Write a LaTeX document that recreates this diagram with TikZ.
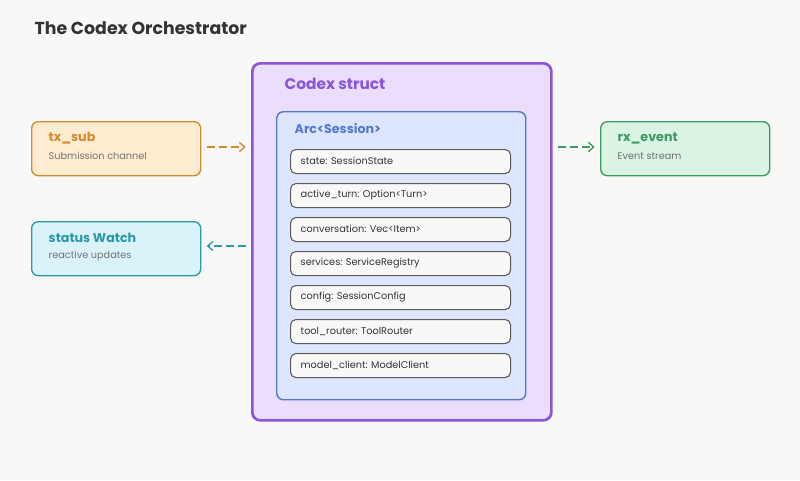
\documentclass[tikz,border=0pt]{standalone}
\usepackage{fontspec}
\setmainfont{Poppins}
\usetikzlibrary{arrows.meta}
\definecolor{bg}{HTML}{F8F8F6}
\definecolor{purp}{HTML}{8A55D6}
\definecolor{purpfill}{HTML}{EADDFE}
\definecolor{blu}{HTML}{5578CC}
\definecolor{blufill}{HTML}{DDE6FE}
\definecolor{org}{HTML}{D38A2E}
\definecolor{orgfill}{HTML}{FDECD0}
\definecolor{teal}{HTML}{2C98AA}
\definecolor{tealfill}{HTML}{D9F3F8}
\definecolor{grn}{HTML}{3C9A62}
\definecolor{grnfill}{HTML}{DAF3E2}
\begin{document}
\begin{tikzpicture}[x=0.75pt,y=-0.75pt,
  field/.style={draw=black!65,fill=bg,rounded corners=4pt,line width=0.8pt,minimum width=165pt,minimum height=18pt,anchor=north west,inner sep=0},
  ftext/.style={anchor=west,font=\fontsize{7.3}{8}\selectfont,text=black!80},
  side/.style={rounded corners=5pt,line width=1pt,minimum width=126.75pt,minimum height=40.5pt,anchor=north west,inner sep=0},
  ttl/.style={anchor=west,font=\bfseries\fontsize{9.5}{11}\selectfont},
  sub/.style={anchor=west,font=\fontsize{7.3}{8}\selectfont,text=black!55},
  arr/.style={dashed,dash pattern=on 6pt off 3pt,line width=1pt,-{Straight Barb[length=4pt,width=7pt]},shorten <=4pt,shorten >=4pt}]
\fill[bg] (0,0) rectangle (800,480);
\useasboundingbox (0,0) rectangle (800,480);
\node[anchor=west,font=\bfseries\fontsize{13}{15}\selectfont,text=black!80] (title) at (30,28) {The Codex Orchestrator};
\node[draw=purp,fill=purpfill,line width=2pt,rounded corners=6pt,minimum width=224.25pt,minimum height=267.75pt,anchor=north west,inner sep=0] (outer) at (251,62) {};
\node[anchor=west,font=\bfseries\fontsize{11.5}{13}\selectfont,text=purp] (otitle) at (280,84) {Codex struct};
\node[draw=blu,fill=blufill,line width=1.1pt,rounded corners=5pt,minimum width=186.75pt,minimum height=216pt,anchor=north west,inner sep=0] (inner) at (276,111) {};
\node[anchor=west,font=\bfseries\fontsize{9.5}{11}\selectfont,text=blu] (ititle) at (290,128) {Arc<Session>};
\foreach \i/\t in {0/{state: SessionState},1/{active\_turn: Option<Turn>},2/{conversation: Vec<Item>},3/{services: ServiceRegistry},4/{config: SessionConfig},5/{tool\_router: ToolRouter},6/{model\_client: ModelClient}}{
  \node[field] (f\i) at (290,149+34*\i) {};
  \node[ftext] (ft\i) at (296,161+34*\i) {\t};
}
\node[side,draw=org,fill=orgfill] (tx) at (31,121) {};
\node[ttl,text=org] (txt) at (44,138) {tx\_sub};
\node[sub] (txs) at (44,156) {Submission channel};
\node[side,draw=teal,fill=tealfill] (st) at (31,221) {};
\node[ttl,text=teal] (stt) at (44,238) {status Watch};
\node[sub] (sts) at (44,256) {reactive updates};
\node[side,draw=grn,fill=grnfill] (rx) at (600,121) {};
\node[ttl,text=grn] (rxt) at (613,138) {rx\_event};
\node[sub] (rxs) at (613,156) {Event stream};
\draw[arr,draw=org] (tx.east |- 0,147) -- (outer.west |- 0,147);
\draw[arr,draw=grn] (outer.east |- 0,147) -- (rx.west |- 0,147);
\draw[arr,draw=teal] (outer.west |- 0,246) -- (st.east |- 0,246);
\end{tikzpicture}
\end{document}
